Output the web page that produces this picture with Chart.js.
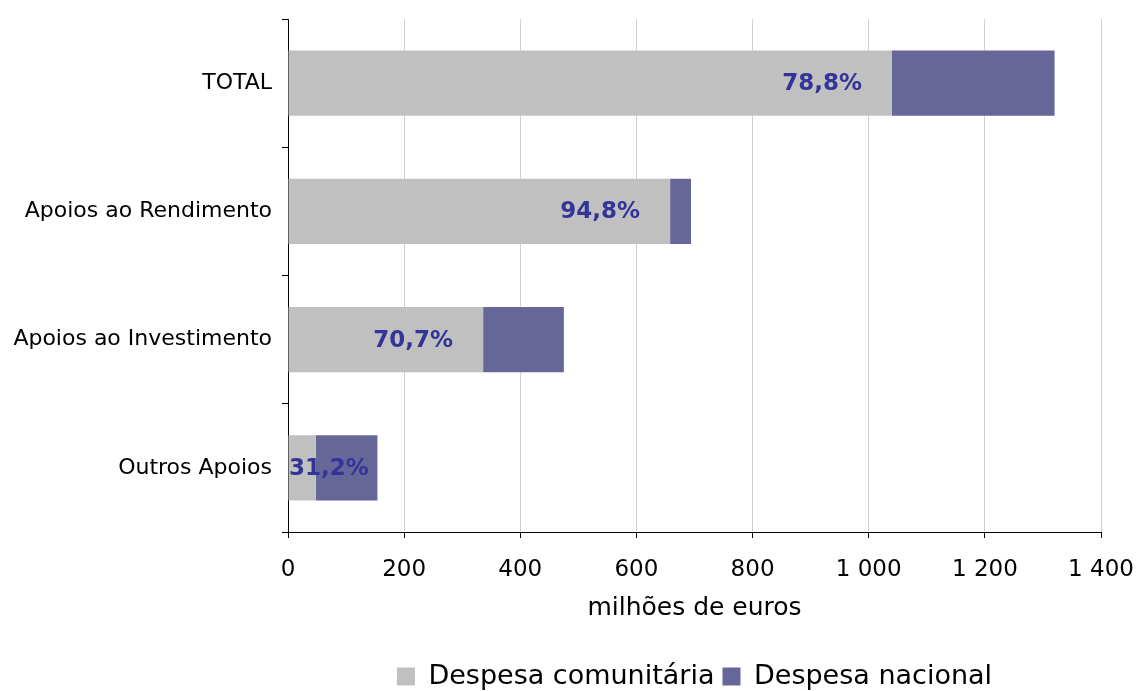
<!DOCTYPE html>
<html>
<head>
<meta charset="utf-8">
<script src="https://cdn.jsdelivr.net/npm/chart.js@4"></script>
<style>
  html, body { margin: 0; padding: 0; background: #fff; }
  #wrap { width: 1137px; height: 691px; position: relative; }
</style>
</head>
<body>
<div id="wrap"><canvas id="chart"></canvas></div>
<script>
const categories = ['TOTAL', 'Apoios ao Rendimento', 'Apoios ao Investimento', 'Outros Apoios'];
const despesaComunitaria = [1040, 658, 336, 48];
const despesaNacional = [280, 36, 139, 106];
const shareLabels = ['78,8%', '94,8%', '70,7%', '31,2%'];
const xTicks = [0, 200, 400, 600, 800, 1000, 1200, 1400];

const FONT = "'DejaVu Sans', Verdana, sans-serif";

// bold percentage labels placed inside the end of the grey bars
const shareLabelPlugin = {
  id: 'shareLabels',
  afterDatasetsDraw(chart) {
    const ctx = chart.ctx;
    const meta = chart.getDatasetMeta(0);
    const left = chart.chartArea.left;
    ctx.save();
    ctx.font = 'bold 23px ' + FONT;
    ctx.fillStyle = '#333399';
    ctx.textAlign = 'right';
    ctx.textBaseline = 'middle';
    meta.data.forEach((bar, i) => {
      const txt = shareLabels[i];
      const w = ctx.measureText(txt).width;
      const x = Math.max(bar.x - 30, left + w + 1);
      ctx.fillText(txt, x, bar.y + 1);
    });
    ctx.restore();
  }
};

new Chart(document.getElementById('chart'), {
  type: 'bar',
  data: {
    labels: categories,
    datasets: [
      {
        label: 'Despesa comunitária',
        data: despesaComunitaria,
        backgroundColor: '#c0c0c0',
        categoryPercentage: 1,
        barPercentage: 0.51,
      },
      {
        label: 'Despesa nacional',
        data: despesaNacional,
        backgroundColor: '#666699',
        categoryPercentage: 1,
        barPercentage: 0.51,
      },
    ],
  },
  options: {
    indexAxis: 'y',
    responsive: true,
    maintainAspectRatio: false,
    animation: false,
    layout: { padding: { top: 19, right: 36, left: 0, bottom: -9 } },
    scales: {
      x: {
        stacked: true,
        min: 0,
        max: 1400,
        afterBuildTicks: (axis) => { axis.ticks = xTicks.map(v => ({ value: v })); },
        afterFit: (axis) => {
          axis.height = 123;
          axis.paddingLeft = 0;
          axis.paddingRight = 0;
        },
        border: { color: '#000', width: 1 },
        grid: { color: '#d0d0d0', lineWidth: 1, tickColor: '#000', tickLength: 6 },
        ticks: {
          color: '#000',
          font: { family: FONT, size: 23 },
          padding: 18,
          maxRotation: 0,
          callback: (v) => String(v).replace(/\B(?=(\d{3})+(?!\d))/g, ' '),
        },
        title: {
          display: true,
          text: 'milhões de euros',
          color: '#000',
          font: { family: FONT, size: 25 },
          padding: { top: 4, bottom: 32 },
        },
      },
      y: {
        stacked: true,
        afterFit: (axis) => {
          axis.width = 288;
          axis.paddingTop = 0;
          axis.paddingBottom = 0;
        },
        border: { color: '#000', width: 1 },
        grid: { drawOnChartArea: false, tickColor: '#000', tickLength: 6, offset: true },
        ticks: {
          color: '#000',
          font: { family: FONT, size: 22 },
          padding: 10,
        },
      },
    },
    plugins: {
      legend: {
        position: 'bottom',
        fullSize: false,
        labels: {
          color: '#000',
          font: { family: FONT, size: 27 },
          boxWidth: 18,
          boxHeight: 18,
          padding: 8,
        },
      },
      tooltip: { enabled: false },
    },
  },
  plugins: [shareLabelPlugin],
});
</script>
</body>
</html>
